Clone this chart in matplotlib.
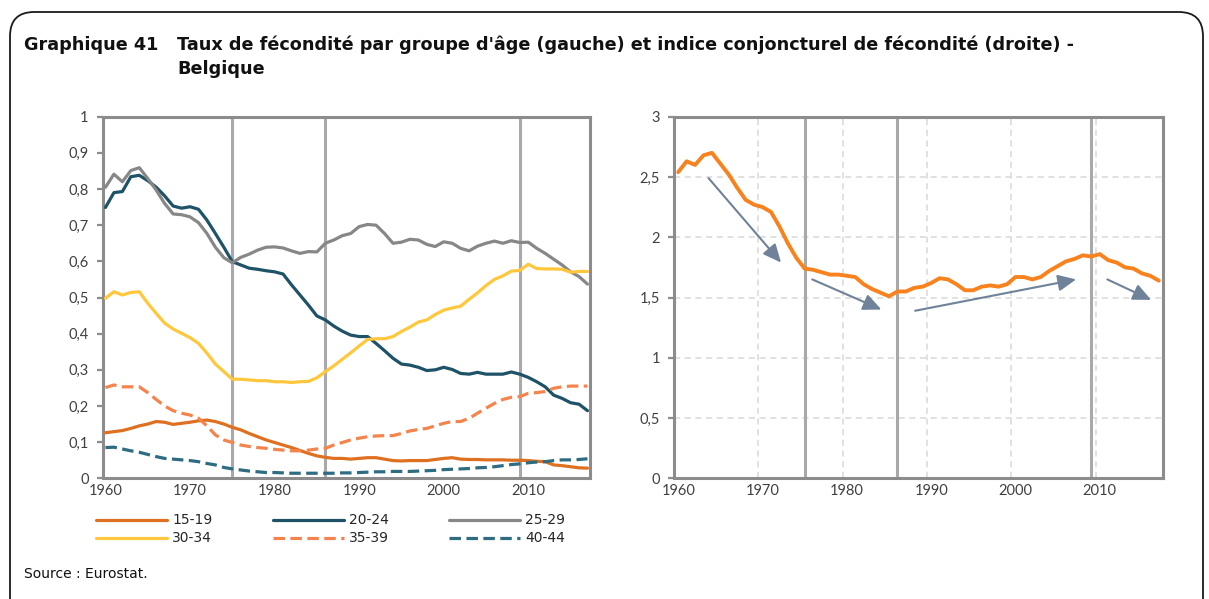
import matplotlib
matplotlib.use("Agg")
import matplotlib.pyplot as plt
from matplotlib.patches import FancyBboxPatch, FancyArrowPatch
from matplotlib.lines import Line2D
import numpy as np

# ---------------------------------------------------------------- data
years = list(range(1960, 2018))

age_groups = ["15-19", "20-24", "25-29", "30-34", "35-39", "40-44"]

rate_15_19 = [0.126, 0.129, 0.132, 0.138, 0.145, 0.150, 0.157, 0.155, 0.149, 0.152,
              0.155, 0.159, 0.161, 0.157, 0.150, 0.141, 0.134, 0.124, 0.115, 0.106,
              0.099, 0.092, 0.085, 0.077, 0.069, 0.062, 0.058, 0.055, 0.055, 0.053,
              0.055, 0.057, 0.057, 0.053, 0.049, 0.048, 0.049, 0.049, 0.049, 0.052,
              0.055, 0.057, 0.053, 0.052, 0.052, 0.051, 0.051, 0.051, 0.050, 0.050,
              0.049, 0.047, 0.046, 0.037, 0.035, 0.032, 0.029, 0.028]

rate_20_24 = [0.749, 0.790, 0.793, 0.834, 0.838, 0.823, 0.805, 0.781, 0.753, 0.747,
              0.751, 0.744, 0.714, 0.677, 0.639, 0.599, 0.590, 0.581, 0.578, 0.574,
              0.571, 0.565, 0.535, 0.507, 0.479, 0.449, 0.438, 0.421, 0.407, 0.396,
              0.392, 0.392, 0.373, 0.353, 0.332, 0.316, 0.313, 0.307, 0.298, 0.300,
              0.307, 0.301, 0.290, 0.288, 0.293, 0.288, 0.288, 0.288, 0.294, 0.288,
              0.279, 0.267, 0.253, 0.230, 0.221, 0.209, 0.205, 0.187]

rate_25_29 = [0.805, 0.841, 0.820, 0.851, 0.859, 0.829, 0.797, 0.760, 0.731, 0.729,
              0.723, 0.707, 0.677, 0.639, 0.610, 0.596, 0.611, 0.620, 0.631, 0.639,
              0.640, 0.637, 0.629, 0.622, 0.627, 0.626, 0.650, 0.659, 0.671, 0.677,
              0.696, 0.702, 0.700, 0.677, 0.650, 0.653, 0.661, 0.659, 0.647, 0.641,
              0.654, 0.650, 0.636, 0.629, 0.642, 0.650, 0.656, 0.650, 0.657, 0.652,
              0.653, 0.636, 0.622, 0.606, 0.590, 0.571, 0.558, 0.537]

rate_30_34 = [0.498, 0.516, 0.507, 0.514, 0.516, 0.484, 0.456, 0.429, 0.413, 0.401,
              0.389, 0.373, 0.346, 0.316, 0.295, 0.274, 0.274, 0.272, 0.270, 0.270,
              0.267, 0.267, 0.265, 0.267, 0.268, 0.278, 0.295, 0.311, 0.329, 0.347,
              0.366, 0.384, 0.386, 0.386, 0.392, 0.406, 0.418, 0.432, 0.438, 0.453,
              0.465, 0.471, 0.476, 0.495, 0.513, 0.533, 0.550, 0.560, 0.573, 0.575,
              0.592, 0.580, 0.579, 0.579, 0.578, 0.570, 0.572, 0.572]

rate_35_39 = [0.251, 0.258, 0.253, 0.253, 0.253, 0.237, 0.218, 0.200, 0.187, 0.180,
              0.175, 0.166, 0.145, 0.120, 0.106, 0.099, 0.092, 0.088, 0.085, 0.083,
              0.080, 0.078, 0.076, 0.076, 0.078, 0.081, 0.083, 0.092, 0.099, 0.106,
              0.111, 0.115, 0.117, 0.118, 0.118, 0.124, 0.131, 0.135, 0.138, 0.145,
              0.152, 0.157, 0.157, 0.166, 0.180, 0.194, 0.207, 0.218, 0.224, 0.226,
              0.235, 0.237, 0.240, 0.249, 0.253, 0.255, 0.255, 0.255]

rate_40_44 = [0.085, 0.086, 0.081, 0.076, 0.072, 0.066, 0.060, 0.055, 0.053, 0.051,
              0.049, 0.046, 0.041, 0.037, 0.030, 0.026, 0.023, 0.020, 0.018, 0.016,
              0.016, 0.015, 0.014, 0.014, 0.014, 0.014, 0.014, 0.014, 0.015, 0.015,
              0.016, 0.017, 0.018, 0.018, 0.019, 0.019, 0.019, 0.020, 0.021, 0.022,
              0.024, 0.025, 0.026, 0.027, 0.029, 0.030, 0.032, 0.035, 0.038, 0.040,
              0.043, 0.045, 0.046, 0.049, 0.051, 0.051, 0.052, 0.054]

tfr = [2.54, 2.63, 2.60, 2.68, 2.70, 2.61, 2.52, 2.41, 2.31, 2.27,
       2.25, 2.21, 2.09, 1.95, 1.83, 1.74, 1.73, 1.71, 1.69, 1.69,
       1.68, 1.67, 1.61, 1.57, 1.54, 1.51, 1.55, 1.55, 1.58, 1.59,
       1.62, 1.66, 1.65, 1.61, 1.56, 1.56, 1.59, 1.60, 1.59, 1.61,
       1.67, 1.67, 1.65, 1.67, 1.72, 1.76, 1.80, 1.82, 1.85, 1.84,
       1.86, 1.81, 1.79, 1.75, 1.74, 1.70, 1.68, 1.64]

# years marking the break between periods
period_breaks = [1975, 1986, 2009]

# trend arrows on the TFR panel: (x0, y0, x1, y1)
trend_arrows = [(1963.6, 2.49, 1972.2, 1.79),
                (1975.9, 1.65, 1984.1, 1.40),
                (1988.1, 1.39, 2007.2, 1.65),
                (2010.9, 1.65, 2016.1, 1.48)]

left_yticks = [0, 0.1, 0.2, 0.3, 0.4, 0.5, 0.6, 0.7, 0.8, 0.9, 1]
right_yticks = [0, 0.5, 1, 1.5, 2, 2.5, 3]
xticks = [1960, 1970, 1980, 1990, 2000, 2010]

# ---------------------------------------------------------------- styles
series = [rate_15_19, rate_20_24, rate_25_29, rate_30_34, rate_35_39, rate_40_44]
colors = ["#DE7021", "#1E5266", "#878787", "#FFC83C", "#F4844C", "#2E6C82"]
dashed = [False, False, False, False, True, True]
DASH = (0, (3.6, 1.7))
LW = 2.3

AXIS_GREY = "#8C8C8C"
BREAK_GREY = "#A9A9A9"
TICK_TXT = "#404040"
TITLE_SIZE = 12.7

W, H = 1209, 599
fig = plt.figure(figsize=(W / 100, H / 100), dpi=100)


def fx(px):
    return px / W


def fy(py):
    return 1 - py / H


def fmt(v):
    s = f"{v:g}"
    return s.replace(".", ",")


def style_axes(ax):
    for side in ["left", "bottom", "top", "right"]:
        ax.spines[side].set_color(AXIS_GREY)
        ax.spines[side].set_linewidth(2.2)
    ax.tick_params(axis="y", direction="out", length=4, width=1.6, color=AXIS_GREY,
                   labelsize=10.5, labelcolor=TICK_TXT, pad=6)
    ax.tick_params(axis="x", length=0, labelsize=10.5, labelcolor=TICK_TXT, pad=4)
    for lab in ax.get_xticklabels() + ax.get_yticklabels():
        lab.set_fontfamily("Lato")


# ---------------------------------------------------------------- left panel
axl = fig.add_axes([fx(102.5), fy(478.3), fx(590) - fx(102.5), fy(116.7) - fy(478.3)])
for b in period_breaks:
    axl.axvline(b, color=BREAK_GREY, lw=2.2, zorder=1)
for vals, c, d in zip(series, colors, dashed):
    axl.plot(years, vals, color=c, lw=LW, ls=DASH if d else "-",
             solid_capstyle="round", dash_capstyle="butt", zorder=3)
axl.set_xlim(1959.65, 2017.3)
axl.set_ylim(0, 1)
axl.set_yticks(left_yticks)
axl.set_yticklabels([fmt(v) for v in left_yticks])
axl.set_xticks(xticks)
axl.set_xticklabels([str(v) for v in xticks])
style_axes(axl)

# ---------------------------------------------------------------- right panel
axr = fig.add_axes([fx(674), fy(478.3), fx(1163) - fx(674), fy(116.7) - fy(478.3)])
for yv in right_yticks[1:-1]:
    axr.axhline(yv, color="#D9D9D9", lw=1.1, ls=(0, (4, 3)), zorder=0)
for xv in xticks[1:]:
    axr.axvline(xv - 0.5, color="#D9D9D9", lw=1.1, ls=(0, (4, 3)), zorder=0)
for b in period_breaks:
    axr.axvline(b, color=BREAK_GREY, lw=2.2, zorder=1)
axr.plot(years, tfr, color="#F7821E", lw=2.8, solid_capstyle="round", zorder=3)
for x0, y0, x1, y1 in trend_arrows:
    arr = FancyArrowPatch((x0, y0), (x1, y1),
                          arrowstyle="-|>,head_length=1.1,head_width=0.5",
                          mutation_scale=10, color="#6F8299", lw=1.5,
                          shrinkA=0, shrinkB=0, zorder=4)
    axr.add_patch(arr)
axr.set_xlim(1959.5, 2017.5)
axr.set_ylim(0, 3)
axr.set_yticks(right_yticks)
axr.set_yticklabels([fmt(v) for v in right_yticks])
axr.set_xticks(xticks)
axr.set_xticklabels([str(v) for v in xticks])
style_axes(axr)

# ---------------------------------------------------------------- legend
legend_cols = [96, 273, 449]
legend_rows = [520, 538]
for i, (name, c, d) in enumerate(zip(age_groups, colors, dashed)):
    r, k = divmod(i, 3)
    x0 = legend_cols[k]
    y = legend_rows[r]
    fig.add_artist(Line2D([fx(x0), fx(x0 + 71)], [fy(y), fy(y)], transform=fig.transFigure,
                          color=c, lw=LW, ls=DASH if d else "-",
                          solid_capstyle="round", dash_capstyle="butt"))
    fig.text(fx(x0 + 76), fy(y), name, fontsize=10, color="#262626",
             va="center", ha="left", family="DejaVu Sans")

# ---------------------------------------------------------------- frame and texts
frame = FancyBboxPatch((fx(10), fy(640)), fx(1203) - fx(10), fy(12) - fy(640),
                       boxstyle="round,pad=0,rounding_size=0.02",
                       transform=fig.transFigure, facecolor="none",
                       edgecolor="#1A1A1A", lw=1.3, mutation_aspect=W / H)
fig.add_artist(frame)

fig.text(fx(24), fy(45), "Graphique 41", fontsize=TITLE_SIZE, fontweight="bold",
         color="#111111", va="center", ha="left", family="DejaVu Sans")
fig.text(fx(177), fy(45),
         "Taux de fécondité par groupe d'âge (gauche) et indice conjoncturel de fécondité (droite) -",
         fontsize=TITLE_SIZE, fontweight="bold", color="#111111", va="center", ha="left",
         family="DejaVu Sans")
fig.text(fx(177), fy(69), "Belgique", fontsize=TITLE_SIZE, fontweight="bold",
         color="#111111", va="center", ha="left", family="DejaVu Sans")

fig.text(fx(24), fy(574), "Source : Eurostat.", fontsize=10, color="#111111",
         va="center", ha="left", family="DejaVu Sans")

fig.savefig("out.png", dpi=100, facecolor="white")
